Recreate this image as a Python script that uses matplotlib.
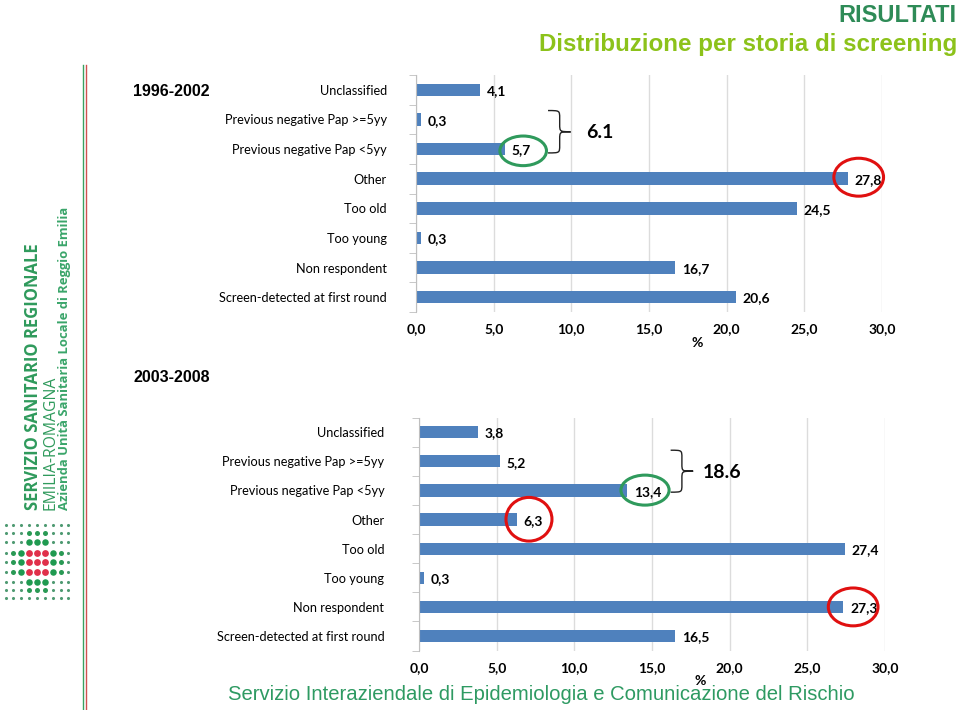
import matplotlib
matplotlib.use("Agg")
import matplotlib.pyplot as plt
from matplotlib.patches import Ellipse, PathPatch
from matplotlib.path import Path
from matplotlib.ticker import MultipleLocator, FixedLocator

# data
categories = ["Unclassified", "Previous negative Pap >=5yy", "Previous negative Pap <5yy",
              "Other", "Too old", "Too young", "Non respondent",
              "Screen-detected at first round"]
vals_9602 = [4.1, 0.3, 5.7, 27.8, 24.5, 0.3, 16.7, 20.6]
vals_0308 = [3.8, 5.2, 13.4, 6.3, 27.4, 0.3, 27.3, 16.5]
periods = ["1996-2002", "2003-2008"]
sum_9602 = "6.1"
sum_0308 = "18.6"

bar_col = "#4f81bd"
green = "#2f9a5c"
red = "#e01010"
lab_font = ["Lato", "DejaVu Sans"]

fig = plt.figure(figsize=(9.6, 7.1), dpi=100)

# decoration layer in pixel coordinates
deco = fig.add_axes([0, 0, 1, 1], zorder=0)
deco.set_xlim(0, 960)
deco.set_ylim(710, 0)
deco.axis("off")

deco.plot([83, 83], [65, 710], color="#3aa060", lw=1)
deco.plot([86, 86], [65, 710], color="#d05050", lw=1)

deco.text(956, 15, "RISULTATI", ha="right", va="center", fontsize=17,
          fontweight="bold", color="#2e8b57", family="Liberation Sans")
deco.text(957, 45, "Distribuzione per storia di screening", ha="right", va="center",
          fontsize=17.4, fontweight="bold", color="#8cc21a", family="Liberation Sans")
deco.text(541, 695, "Servizio Interaziendale di Epidemiologia e Comunicazione del Rischio",
          ha="center", va="center", fontsize=14.6, color="#2e9a62",
          family=["Liberation Sans Narrow", "Liberation Sans"])

deco.text(133, 91, periods[0], ha="left", va="center", fontsize=11.5,
          fontweight="bold", family="Liberation Sans")
deco.text(133, 377, periods[1], ha="left", va="center", fontsize=11.5,
          fontweight="bold", family="Liberation Sans")

# logo text
deco.text(33.5, 510, "SERVIZIO SANITARIO REGIONALE", rotation=90, ha="center", va="bottom",
          fontsize=12, fontweight="bold", color=green, family="Open Sans")
deco.text(50, 510, "EMILIA-ROMAGNA", rotation=90, ha="center", va="bottom",
          fontsize=11.3, color=green, family="Open Sans")
deco.text(65, 510, "Azienda Unità Sanitaria Locale di Reggio Emilia", rotation=90,
          ha="center", va="bottom", fontsize=9.4, fontweight="bold", color="#3aa56a",
          family="Open Sans")

# logo dots
dot_rows = ["sssssssss", "sssmmmsss", "sssgggsss", "smgrrrgms", "smgrrrgms",
            "smgrrrgms", "sssgggsss", "sssmmmsss", "sssssssss"]
dot_x = [6, 13, 21, 29, 37, 45, 53, 61, 68]
dot_y = [525, 533, 542, 553, 562, 572, 582, 590, 598]
dot_style = {"s": (5, "#4f9a72"), "m": (13, "#2a9a55"), "g": (22, "#1f9a50"), "r": (24, "#e0304a")}
for row, yy in zip(dot_rows, dot_y):
    for c, xx in zip(row, dot_x):
        s, col = dot_style[c]
        deco.scatter(xx, yy, s=s, color=col, linewidths=0)


def brace(ax, x, y0, y1, w):
    h = y1 - y0
    ym = (y0 + y1) / 2
    xm = x + w / 2
    k = h * 0.18
    verts = [(x, y0), (xm, y0), (xm, y0), (xm, y0 + k),
             (xm, ym - k),
             (xm, ym), (xm, ym), (x + w, ym),
             (xm, ym), (xm, ym), (xm, ym + k),
             (xm, y1 - k),
             (xm, y1), (xm, y1), (x, y1)]
    codes = [Path.MOVETO, Path.CURVE4, Path.CURVE4, Path.CURVE4,
             Path.LINETO,
             Path.CURVE4, Path.CURVE4, Path.CURVE4,
             Path.CURVE4, Path.CURVE4, Path.CURVE4,
             Path.LINETO,
             Path.CURVE4, Path.CURVE4, Path.CURVE4]
    ax.add_patch(PathPatch(Path(verts, codes), fill=False, lw=1.0,
                           color="#222222", clip_on=False))


def bar_panel(rect, vals, pad):
    ax = fig.add_axes(rect, zorder=1)
    ax.patch.set_alpha(0)
    y = list(range(len(categories)))
    ax.barh(y, vals, height=0.42, color=bar_col, zorder=2)
    ax.set_xlim(0, 30)
    ax.set_ylim(len(categories) - 0.5, -0.5)
    ax.xaxis.set_major_locator(MultipleLocator(5))
    ax.set_xticklabels([f"{v:.1f}".replace(".", ",") for v in ax.get_xticks()])
    ax.grid(axis="x", color="#dcdcdc", lw=1, zorder=0)
    for s in ["top", "right", "bottom"]:
        ax.spines[s].set_visible(False)
    ax.spines["left"].set_color("#bfbfbf")
    ax.set_yticks(y)
    ax.set_yticklabels(categories, family=lab_font, fontsize=9.2)
    ax.yaxis.set_minor_locator(FixedLocator([i + 0.5 for i in range(-1, len(categories))]))
    ax.tick_params(axis="y", which="major", length=0, pad=pad)
    ax.tick_params(axis="y", which="minor", length=5, color="#bfbfbf")
    ax.tick_params(axis="x", length=0, pad=8)
    for t in ax.get_xticklabels():
        t.set_fontfamily(lab_font)
        t.set_fontweight("bold")
        t.set_fontsize(10)
    ax.set_xlabel("%", family=lab_font, fontweight="bold", fontsize=10, labelpad=1)
    ax.xaxis.label.set_x(0.603)
    for yi, v in zip(y, vals):
        ax.annotate(f"{v:.1f}".replace(".", ","), (v, yi), xytext=(5, -1),
                    textcoords="offset points", ha="left", va="center",
                    fontsize=10, fontweight="bold", family=lab_font)
    return ax


ax1 = bar_panel([416 / 960, 1 - 312 / 710, 466 / 960, 237 / 710], vals_9602, 21)
ax2 = bar_panel([419 / 960, 1 - 650.6 / 710, 466 / 960, 233 / 710], vals_0308, 25)

# highlights, top panel
ax1.add_patch(Ellipse((6.9, 2.06), 3.0, 1.0, fill=False, ec=green, lw=2.2, clip_on=False, zorder=3))
ax1.add_patch(Ellipse((28.5, 2.95), 3.2, 1.28, fill=False, ec=red, lw=2.2, clip_on=False, zorder=3))
brace(ax1, 8.5, 0.7, 2.13, 1.5)
ax1.text(11.85, 1.44, sum_9602, ha="center", va="center", fontsize=14,
         fontweight="bold", family=lab_font)

# highlights, bottom panel
ax2.add_patch(Ellipse((14.55, 1.99), 3.1, 1.03, fill=False, ec=green, lw=2.2, clip_on=False, zorder=3))
ax2.add_patch(Ellipse((7.08, 2.99), 2.96, 1.5, fill=False, ec=red, lw=2.2, clip_on=False, zorder=3))
ax2.add_patch(Ellipse((27.95, 6.0), 3.2, 1.3, fill=False, ec=red, lw=2.2, clip_on=False, zorder=3))
brace(ax2, 16.2, 0.62, 2.06, 1.45)
ax2.text(19.5, 1.37, sum_0308, ha="center", va="center", fontsize=14,
         fontweight="bold", family=lab_font)

fig.savefig("out.png", dpi=100)
